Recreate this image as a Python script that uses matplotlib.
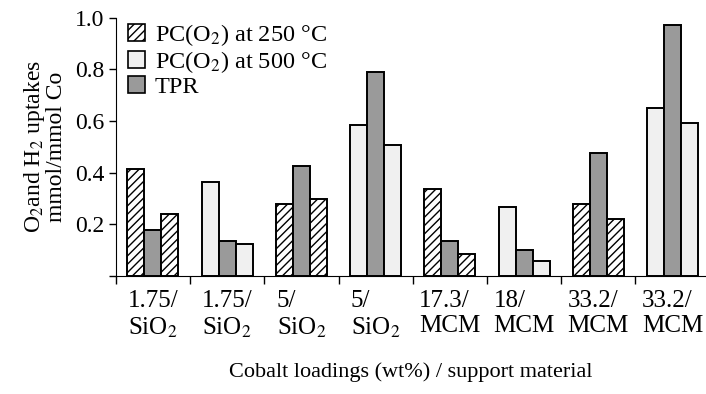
import matplotlib

matplotlib.use("Agg")
import matplotlib.pyplot as plt
from matplotlib.patches import Patch
import numpy as np

plt.rcParams["font.family"] = ["Liberation Serif", "DejaVu Serif"]
plt.rcParams["mathtext.fontset"] = "stix"
plt.rcParams["hatch.linewidth"] = 1.0

# data
group_labels = [
    "1.75/\nSiO$_2$", "1.75/\nSiO$_2$", "5/\nSiO$_2$", "5/\nSiO$_2$",
    "17.3/\nMCM", "18/\nMCM", "33.2/\nMCM", "33.2/\nMCM",
]
pc_temp = [250, 500, 250, 500, 250, 500, 250, 500]
first_pc = [0.415, 0.362, 0.28, 0.585, 0.338, 0.266, 0.28, 0.65]
tpr = [0.177, 0.135, 0.427, 0.788, 0.135, 0.10, 0.477, 0.97]
second_pc = [0.238, 0.123, 0.296, 0.508, 0.085, 0.058, 0.219, 0.592]

LIGHT = "#f0f0f0"
GRAY = "#9a9a9a"


def pc_style(temp):
    if temp == 250:
        return dict(facecolor="white", hatch="////")
    return dict(facecolor=LIGHT, hatch=None)


fig = plt.figure(figsize=(7.06, 3.94), dpi=100)
ax = fig.add_axes([0.164, 0.30, 0.836, 0.655])

centers = np.arange(len(group_labels)) + 0.5
w = 0.229
for i, c in enumerate(centers):
    st = pc_style(pc_temp[i])
    ax.bar(c - w, first_pc[i], w, edgecolor="black", linewidth=1.4, **st)
    ax.bar(c, tpr[i], w, facecolor=GRAY, edgecolor="black", linewidth=1.4)
    ax.bar(c + w, second_pc[i], w, edgecolor="black", linewidth=1.4, **st)

ax.set_xlim(0, 7.95)
ax.set_ylim(0, 1.0)
ax.spines["top"].set_visible(False)
ax.spines["right"].set_visible(False)
ax.spines["left"].set_bounds(0, 1.0)

ax.set_yticks([0, 0.2, 0.4, 0.6, 0.8, 1.0])
ax.set_yticklabels(["", "0.2", "0.4", "0.6", "0.8", "1.0"], fontsize=17)
ax.tick_params(axis="y", direction="out", length=5, width=1, pad=3)

ax.set_xticks(np.arange(0, 8))
ax.set_xticklabels([])
ax.tick_params(axis="x", which="major", direction="out", length=6, width=1)
ax.set_xticks(centers, minor=True)
ax.set_xticklabels(group_labels, minor=True, fontsize=18, multialignment="left")
ax.tick_params(axis="x", which="minor", length=0, pad=10)

ax.set_xlabel("Cobalt loadings (wt%) / support material", fontsize=16, labelpad=16)
ax.set_ylabel("O$_2$and H$_2$ uptakes\nmmol/mmol Co", fontsize=17, labelpad=6,
              linespacing=0.95)

handles = [
    Patch(facecolor="white", edgecolor="black", hatch="////", linewidth=1.2),
    Patch(facecolor=LIGHT, edgecolor="black", linewidth=1.2),
    Patch(facecolor=GRAY, edgecolor="black", linewidth=1.2),
]
ax.legend(
    handles,
    ["PC(O$_2$) at 250 °C", "PC(O$_2$) at 500 °C", "TPR"],
    loc="upper left",
    bbox_to_anchor=(-0.008, 1.05),
    frameon=False,
    fontsize=17.5,
    handlelength=0.7,
    handleheight=0.7,
    handletextpad=0.4,
    labelspacing=0.05,
    borderaxespad=0.3,
)

fig.savefig("out.png", dpi=100)
